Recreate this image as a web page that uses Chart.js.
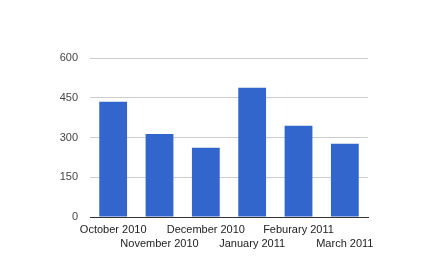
<!DOCTYPE html>
<html>
<head>
<meta charset="utf-8">
<script src="https://cdn.jsdelivr.net/npm/chart.js@4"></script>
<style>
  html, body { margin: 0; padding: 0; background: #fff; }
  #wrap { width: 442px; height: 258px; }
</style>
</head>
<body>
<div id="wrap"><canvas id="monthChart" width="442" height="258"></canvas></div>
<script>
// chart data
const months = ['October 2010', 'November 2010', 'December 2010', 'January 2011', 'Feburary 2011', 'March 2011'];
const values = [435, 313, 261, 488, 344, 276];
const yTicks = [0, 150, 300, 450, 600];

// staggered labels: even ones on first row, odd ones on second
const labels = months.map((m, i) => i % 2 === 0 ? [m, ''] : ['', m]);

const ctx = document.getElementById('monthChart').getContext('2d');
new Chart(ctx, {
    type: 'bar',
    data: {
        labels: labels,
        datasets: [{
            data: values,
            backgroundColor: '#3366cc',
            borderWidth: 0,
            barPercentage: 0.6,
            categoryPercentage: 1.0
        }]
    },
    options: {
        responsive: false,
        animation: false,
        layout: { padding: { top: 58, right: 74, left: 0, bottom: 0 } },
        plugins: {
            legend: { display: false },
            tooltip: { enabled: false }
        },
        scales: {
            x: {
                grid: { display: false, drawTicks: false },
                border: { display: true, color: '#333333', width: 1 },
                ticks: {
                    autoSkip: false,
                    maxRotation: 0,
                    minRotation: 0,
                    padding: 6,
                    color: '#222222',
                    font: { family: 'Liberation Sans, Arial', size: 11, lineHeight: 1.27 }
                },
                afterFit: (s) => { s.height = 41; }
            },
            y: {
                min: 0,
                max: 600,
                afterBuildTicks: (s) => { s.ticks = yTicks.map(v => ({ value: v })); },
                grid: {
                    color: (c) => c.tick && c.tick.value === 0 ? 'rgba(0,0,0,0)' : '#cccccc',
                    drawTicks: false
                },
                border: { display: false },
                ticks: {
                    padding: 12,
                    color: '#444444',
                    font: { family: 'Liberation Sans, Arial', size: 11 }
                },
                afterFit: (s) => { s.width = 90; }
            }
        }
    }
});
</script>
</body>
</html>
